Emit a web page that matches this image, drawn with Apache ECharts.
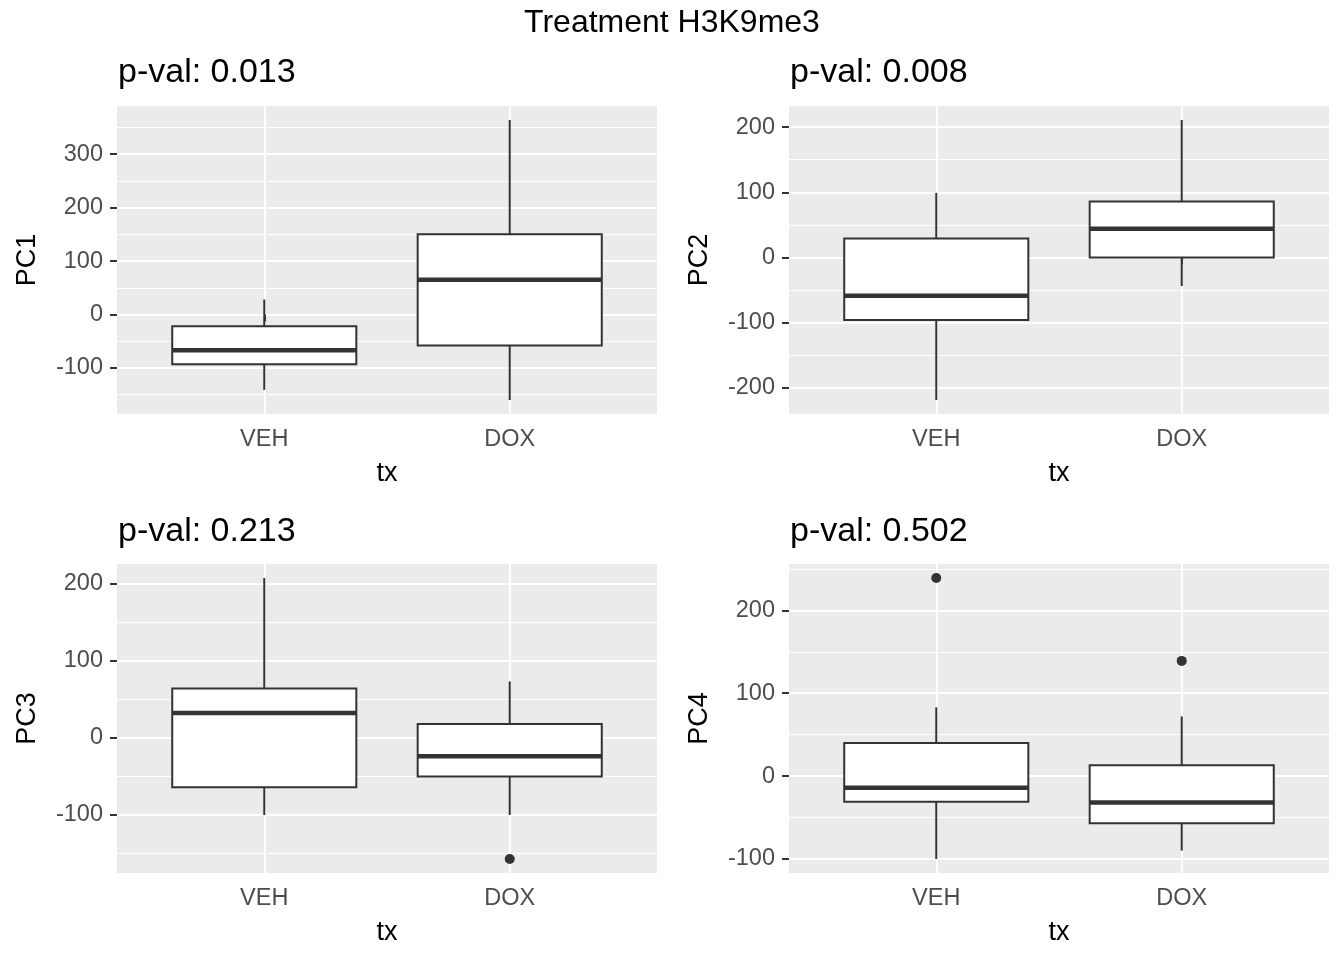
<!DOCTYPE html>
<html><head><meta charset="utf-8">
<script src="https://cdn.jsdelivr.net/npm/echarts@6/dist/echarts.min.js"></script>
<style>html,body{margin:0;padding:0;background:#fff}#c{width:1344px;height:960px}</style>
</head><body><div id="c"></div>
<script>
// ---- data ----
const categories = ['VEH', 'DOX'];
const mainTitle = 'Treatment H3K9me3';
const panelTitles = ['p-val: 0.013', 'p-val: 0.008', 'p-val: 0.213', 'p-val: 0.502'];
const yNames = ['PC1', 'PC2', 'PC3', 'PC4'];
const xName = 'tx';
// five-number summaries: [lower whisker, Q1, median, Q3, upper whisker]
const pc1Veh = [-141, -93, -67, -22, 28];
const pc1Dox = [-160, -58, 65, 150, 364];
const pc2Veh = [-219, -96, -59, 29, 99];
const pc2Dox = [-44, 0, 44, 86, 211];
const pc3Veh = [-100, -64, 32, 64, 207];
const pc3Dox = [-100, -50, -24, 18, 73];
const pc4Veh = [-100, -31, -14, 40, 83];
const pc4Dox = [-90, -57, -32, 13, 72];
// outliers
const pc1VehOut = [], pc1DoxOut = [];
const pc2VehOut = [], pc2DoxOut = [];
const pc3VehOut = [], pc3DoxOut = [-157];
const pc4VehOut = [239], pc4DoxOut = [139];
// tick labels
const yTicks1 = [-100, 0, 100, 200, 300];
const yTicks2 = [-200, -100, 0, 100, 200];
const yTicks3 = [-100, 0, 100, 200];
const yTicks4 = [-100, 0, 100, 200];

// ---- build ----
const panels = [
  { boxes: [pc1Veh, pc1Dox], outs: [pc1VehOut, pc1DoxOut], ticks: yTicks1 },
  { boxes: [pc2Veh, pc2Dox], outs: [pc2VehOut, pc2DoxOut], ticks: yTicks2 },
  { boxes: [pc3Veh, pc3Dox], outs: [pc3VehOut, pc3DoxOut], ticks: yTicks3 },
  { boxes: [pc4Veh, pc4Dox], outs: [pc4VehOut, pc4DoxOut], ticks: yTicks4 }
];
const FONT = '"Liberation Sans", Arial, sans-serif';
const gridPos = [
  { left: 117, top: 106, width: 540, height: 308 },
  { left: 789, top: 106, width: 540, height: 308 },
  { left: 117, top: 564, width: 540, height: 309 },
  { left: 789, top: 564, width: 540, height: 309 }
];
const titlePos = [[118, 73], [790, 73], [118, 532], [790, 532]];
const catPos = categories.map((c, i) => i + 1);
const INK = '#333333';

function renderBox(params, api) {
  const x = api.value(0);
  const pLo = api.coord([x, api.value(1)]);
  const pQ1 = api.coord([x, api.value(2)]);
  const pMed = api.coord([x, api.value(3)]);
  const pQ3 = api.coord([x, api.value(4)]);
  const pHi = api.coord([x, api.value(5)]);
  const half = api.size([0.75, 0])[0] / 2;
  const cx = pLo[0];
  return {
    type: 'group',
    children: [
      { type: 'line', shape: { x1: cx, y1: pHi[1], x2: cx, y2: pQ3[1] }, style: { stroke: INK, lineWidth: 2 } },
      { type: 'line', shape: { x1: cx, y1: pQ1[1], x2: cx, y2: pLo[1] }, style: { stroke: INK, lineWidth: 2 } },
      { type: 'rect', shape: { x: cx - half, y: pQ3[1], width: 2 * half, height: pQ1[1] - pQ3[1] }, style: { fill: '#ffffff', stroke: INK, lineWidth: 2 } },
      { type: 'line', shape: { x1: cx - half, y1: pMed[1], x2: cx + half, y2: pMed[1] }, style: { stroke: INK, lineWidth: 4.5 } }
    ]
  };
}

const grid = [], xAxis = [], yAxis = [], series = [], graphic = [];
panels.forEach((p, i) => {
  const all = [];
  p.boxes.forEach(b => all.push(...b));
  p.outs.forEach(o => all.push(...o));
  const lo = Math.min(...all), hi = Math.max(...all);
  const pad = (hi - lo) * 0.05;
  grid.push(Object.assign({ show: true, backgroundColor: '#EBEBEB', borderWidth: 0, containLabel: false, outerBoundsMode: 'none' }, gridPos[i]));
  xAxis.push({
    type: 'value', gridIndex: i, min: 0.4, max: 2.6,
    axisLine: { show: false },
    axisTick: { show: true, customValues: catPos, length: 7, lineStyle: { color: INK, width: 2 } },
    axisLabel: { customValues: catPos, formatter: v => categories[Math.round(v) - 1], color: '#4D4D4D', fontSize: 23.5, fontFamily: FONT, margin: 14 },
    splitLine: { show: true, lineStyle: { color: '#FFFFFF', width: 2 } },
    name: xName, nameLocation: 'middle', nameGap: 46,
    nameTextStyle: { color: '#000000', fontSize: 27, fontFamily: FONT }
  });
  yAxis.push({
    type: 'value', gridIndex: i, min: lo - pad, max: hi + pad, minInterval: 100, maxInterval: 100,
    axisLine: { show: false },
    axisTick: { show: true, customValues: p.ticks, length: 7, lineStyle: { color: INK, width: 2 } },
    axisLabel: { customValues: p.ticks, color: '#4D4D4D', fontSize: 23.5, fontFamily: FONT, margin: 14 },
    splitLine: { show: true, lineStyle: { color: '#FFFFFF', width: 2 } },
    minorTick: { show: false, splitNumber: 2 },
    minorSplitLine: { show: true, lineStyle: { color: '#FFFFFF', width: 1 } },
    name: yNames[i], nameLocation: 'middle', nameGap: 76,
    nameTextStyle: { color: '#000000', fontSize: 27, fontFamily: FONT }
  });
  series.push({
    type: 'custom', xAxisIndex: i, yAxisIndex: i, renderItem: renderBox,
    encode: { x: 0, y: [1, 2, 3, 4, 5] },
    data: p.boxes.map((b, k) => [catPos[k], ...b]),
    silent: true, animation: false
  });
  const outData = [];
  p.outs.forEach((o, k) => o.forEach(v => outData.push([catPos[k], v])));
  series.push({
    type: 'scatter', xAxisIndex: i, yAxisIndex: i, data: outData,
    symbol: 'circle', symbolSize: 10, itemStyle: { color: INK, opacity: 1 },
    silent: true, animation: false, z: 5
  });
  graphic.push({
    type: 'text', x: titlePos[i][0], y: titlePos[i][1],
    style: { text: panelTitles[i], font: '34px ' + FONT, fill: '#000000', align: 'left', verticalAlign: 'middle' }
  });
});
graphic.push({
  type: 'text', x: 672, y: 23,
  style: { text: mainTitle, font: '32px ' + FONT, fill: '#000000', align: 'center', verticalAlign: 'middle' }
});

const chart = echarts.init(document.getElementById('c'), null, { renderer: 'canvas' });
chart.setOption({
  backgroundColor: '#ffffff',
  animation: false,
  grid, xAxis, yAxis, series, graphic
});
</script></body></html>
